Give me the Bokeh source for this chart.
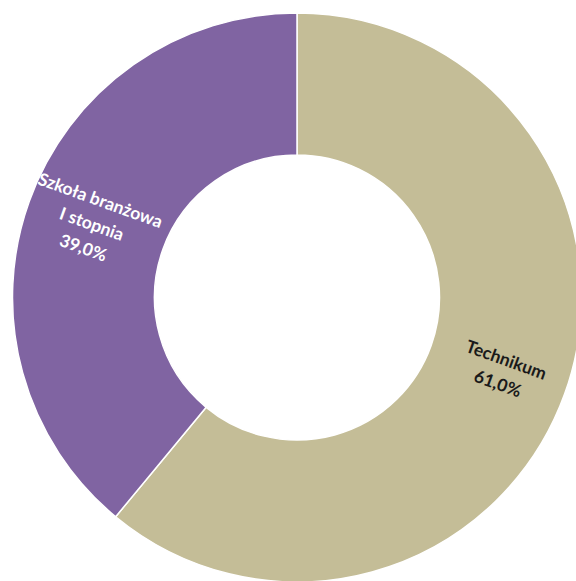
import numpy as np
from bokeh.plotting import figure
from bokeh.models import ColumnDataSource, Range1d
from bokeh.core.properties import value
from bokeh.embed import file_html
from bokeh.resources import INLINE

categories = ["Technikum", "Szkoła branżowa\nI stopnia"]
values = [61.0, 39.0]
colors = ["#C4BD97", "#8064A2"]
label_colors = ["#1a1a1a", "#ffffff"]

W, H = 576, 581
cx, cy = 296.5, H - 297.0
r_out, r_in = 284.5, 142.5

vals = np.array(values)
frac = vals / vals.sum()
cum = np.concatenate([[0], np.cumsum(frac)])
# clockwise from top
end_angles = np.pi / 2 - 2 * np.pi * cum[:-1]
start_angles = np.pi / 2 - 2 * np.pi * cum[1:]
mid = (start_angles + end_angles) / 2

r_lab = 218.0
lx = cx + r_lab * np.cos(mid)
ly = cy + r_lab * np.sin(mid)
ang = []
for m in mid:
    a = (m + np.pi) % (2 * np.pi) - np.pi
    if a > np.pi / 2:
        a -= np.pi
    elif a < -np.pi / 2:
        a += np.pi
    ang.append(a)

labels = [f"{c}\n{v:.1f}%".replace(".", ",") for c, v in zip(categories, values)]

src = ColumnDataSource(dict(start=start_angles, end=end_angles, color=colors,
                            lx=lx, ly=ly, ang=ang, label=labels, tcolor=label_colors,
                            x=[cx] * len(values), y=[cy] * len(values)))

p = figure(width=W, height=H, output_backend="svg", toolbar_location=None,
           x_range=Range1d(0, W), y_range=Range1d(0, H), min_border=0)
p.axis.visible = False
p.grid.visible = False
p.outline_line_color = None
p.background_fill_color = "white"

p.annular_wedge(x="x", y="y", inner_radius=r_in, outer_radius=r_out,
                inner_radius_units="screen", outer_radius_units="screen",
                start_angle="start", end_angle="end", fill_color="color",
                line_color="white", line_width=1.5, source=src)

p.text(x="lx", y="ly", text="label", angle="ang", text_color="tcolor",
       text_align="center", text_baseline="middle",
       text_font=value("Lato"), text_font_style="bold", text_font_size="17.5px",
       text_line_height=1.2, source=src)

open("out.html", "w").write(file_html(p, INLINE))
